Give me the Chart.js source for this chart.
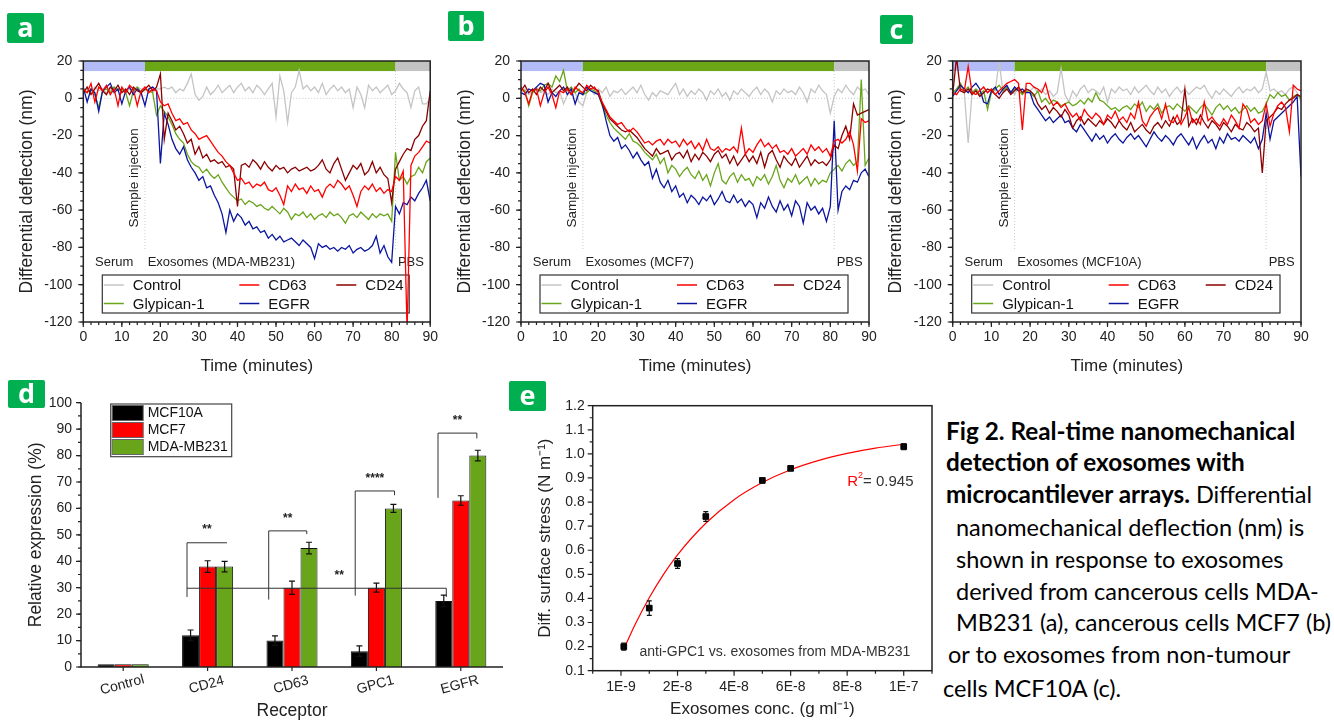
<!DOCTYPE html>
<html>
<head>
<meta charset="utf-8">
<title>Fig 2</title>
<script src="https://cdn.jsdelivr.net/npm/chart.js@4.4.1/dist/chart.umd.min.js"></script>
<style>
  body { margin: 0; background: #fff; }
  #page { position: relative; width: 1334px; height: 722px; overflow: hidden; background: #fff; }
  canvas { position: absolute; }
  .tag { position: absolute; background: #00b050; color: #fff; font: bold 27px "Open Sans", sans-serif;
         text-align: center; border-radius: 2px; }
  .cap { position: absolute; font: 23.5px Lato, "Open Sans", sans-serif; color: #000; white-space: nowrap; line-height: 28px; }
  .cap b { font-size: 24.3px; }
</style>
</head>
<body>
<div id="page">
  <canvas id="chartA" width="445" height="380" style="left:0;top:0"></canvas>
  <canvas id="chartB" width="445" height="380" style="left:445px;top:0"></canvas>
  <canvas id="chartC" width="454" height="380" style="left:880px;top:0"></canvas>
  <canvas id="chartD" width="505" height="342" style="left:0;top:380px"></canvas>
  <canvas id="chartE" width="440" height="342" style="left:500px;top:380px"></canvas>

  <div class="tag" style="left:7px;top:13px;width:37px;height:30px;line-height:28px">a</div>
  <div class="tag" style="left:448px;top:11px;width:36px;height:30px;line-height:28px">b</div>
  <div class="tag" style="left:880px;top:15px;width:33px;height:29px;line-height:27px">c</div>
  <div class="tag" style="left:8px;top:380px;width:37px;height:28px;line-height:26px">d</div>
  <div class="tag" style="left:509px;top:381px;width:37px;height:30px;line-height:27px">e</div>

  <div class="cap" style="left:946px;top:417px"><b>Fig 2. Real-time nanomechanical</b></div>
  <div class="cap" style="left:946px;top:448px"><b>detection of exosomes with</b></div>
  <div class="cap" style="left:946px;top:480px"><b>microcantilever arrays.</b> Differential</div>
  <div class="cap" style="left:956px;top:513px">nanomechanical deflection (nm) is</div>
  <div class="cap" style="left:956px;top:545px">shown in response to exosomes</div>
  <div class="cap" style="left:956px;top:577px">derived from cancerous cells MDA-</div>
  <div class="cap" style="left:956px;top:608px">MB231 (a), cancerous cells MCF7 (b)</div>
  <div class="cap" style="left:948px;top:640px">or to exosomes from non-tumour</div>
  <div class="cap" style="left:943px;top:674px">cells MCF10A (c).</div>
</div>

<script>
Chart.defaults.font.family = '"Liberation Sans", Arial, sans-serif';
Chart.defaults.color = '#222';
Chart.defaults.animation = false;

// ---- a/b/c: differential deflection (nm), one reading per minute ----
const minutes = [...Array(91).keys()];

// a: exosomes from MDA-MB231
const aControl = [4,5,3,6,4,5,3,4,6,5,4,3,5,4,6,5,4,5,3,5,
  5,6,5,6,3,5,4,8,13,2,-1,1,6,2,4,7,3,5,7,3,
  6,8,4,6,3,7,5,2,5,8,-10,12,4,-13,3,6,15,5,7,4,
  6,3,8,2,5,7,4,6,3,5,-5,6,2,-5,7,4,6,3,5,7,
  2,4,8,5,3,-5,4,6,-3,-3,0];
const aCD63 = [5,3,8,-2,6,4,7,2,5,-4,6,3,7,5,-4,4,6,3,5,4,
  -2,-4,-3,-8,-12,-11,-14,-13,-17,-19,-22,-21,-20,-23,-26,-29,-31,-34,-36,-40,
  -44,-43,-46,-45,-48,-46,-47,-45,-49,-50,-48,-52,-57,-47,-50,-46,-49,-48,-51,-47,
  -50,-49,-53,-48,-46,-48,-44,-46,-49,-47,-52,-58,-50,-47,-49,-46,-50,-48,-51,-49,
  -50,-42,-44,-39,-125,-36,-31,-29,-26,-23,-24];
const aCD24 = [3,6,2,5,8,4,2,6,4,7,3,5,2,6,4,3,5,7,4,6,
  13,-22,-8,-12,-17,-15,-19,-24,-22,-30,-26,-32,-30,-34,-33,-35,-34,-37,-36,-38,
  -58,-36,-35,-37,-33,-35,-38,-34,-37,-39,-36,-38,-37,-40,-38,-37,-39,-38,-37,-39,
  -38,-36,-33,-38,-40,-35,-32,-38,-44,-40,-36,-38,-35,-41,-39,-34,-40,-37,-41,-43,
  -56,-38,-34,-30,-27,-28,-22,-20,-15,-12,4];
const aGPC1 = [4,3,5,2,-5,4,5,3,6,4,5,3,-4,4,6,3,5,4,3,-9,
  -4,-7,-10,-14,-19,-22,-24,-30,-34,-36,-37,-40,-38,-41,-43,-41,-45,-48,-51,-53,
  -55,-54,-57,-55,-56,-58,-57,-59,-60,-58,-60,-62,-59,-61,-65,-62,-63,-61,-64,-62,
  -65,-63,-62,-64,-61,-63,-62,-64,-67,-63,-62,-64,-61,-63,-65,-62,-64,-62,-63,-62,
  -66,-29,-44,-42,-46,-42,-41,-37,-40,-34,-32];
const aEGFR = [6,-2,5,3,-7,4,6,8,3,5,-3,4,6,2,5,3,-4,5,6,4,
  -35,-8,-14,-22,-27,-30,-26,-33,-37,-40,-44,-42,-48,-47,-52,-56,-62,-72,-60,-66,
  -62,-64,-68,-66,-70,-69,-72,-71,-75,-73,-76,-74,-77,-76,-75,-77,-79,-76,-78,-80,
  -86,-78,-80,-79,-81,-80,-82,-80,-81,-79,-83,-81,-80,-82,-81,-79,-74,-83,-79,-85,
  -88,-58,-62,-56,-57,-53,-55,-51,-48,-44,-55];

// b: exosomes from MCF7
const bControl = [3,5,2,4,6,3,4,2,5,3,4,-3,2,5,3,-2,-4,3,5,2,
  5,3,6,1,4,3,5,2,4,6,3,7,2,-1,3,1,4,3,2,5,
  8,2,5,1,4,2,5,3,-1,4,2,5,1,3,-1,4,2,5,3,1,
  4,6,2,5,3,-2,4,2,5,3,4,2,6,3,-2,5,3,7,4,2,
  -8,1,5,3,7,4,2,6,4,5,2];
const bCD63 = [6,3,-3,4,5,-4,3,6,2,-5,4,3,5,2,6,4,3,7,5,6,
  3,-2,-6,-10,-12,-14,-13,-16,-18,-16,-18,-21,-24,-23,-25,-23,-22,-25,-22,-24,
  -23,-26,-22,-25,-23,-27,-24,-28,-22,-27,-28,-26,-29,-27,-28,-26,-29,-16,-30,-27,
  -29,-25,-22,-26,-24,-27,-25,-29,-28,-30,-27,-31,-29,-27,-30,-25,-28,-26,-29,-27,
  -31,-23,-22,-24,-22,-18,-25,-39,-11,-13,-12];
const bCD24 = [4,7,3,5,2,6,4,8,3,5,7,4,6,2,5,8,6,4,7,5,
  4,-3,-7,-11,-13,-15,-17,-18,-17,-19,-21,-24,-27,-29,-31,-27,-30,-29,-28,-33,
  -30,-29,-32,-28,-34,-30,-33,-29,-31,-34,-30,-28,-32,-30,-35,-31,-36,-33,-30,-34,
  -31,-35,-29,-37,-30,-28,-33,-37,-31,-34,-36,-32,-37,-34,-31,-36,-33,-35,-34,-36,
  -33,-25,-27,-20,-15,-22,-3,-9,-8,-7,-6];
const bGPC1 = [5,4,-4,3,5,4,7,8,6,12,9,15,4,6,3,5,2,3,5,4,
  2,-4,-9,-13,-16,-18,-20,-22,-19,-23,-24,-26,-29,-31,-33,-30,-35,-32,-40,-36,
  -38,-42,-39,-37,-41,-43,-39,-44,-41,-47,-40,-35,-44,-46,-42,-40,-45,-41,-44,-43,
  -47,-42,-44,-41,-46,-42,-36,-44,-48,-43,-45,-41,-46,-44,-42,-47,-43,-46,-44,-45,
  -40,-38,-36,-39,-35,-33,-36,-34,10,-36,-32];
const bEGFR = [3,2,5,4,6,8,7,-2,3,1,4,6,2,5,-3,3,2,6,4,3,
  2,-3,-12,-20,-23,-21,-27,-25,-28,-32,-29,-33,-36,-34,-43,-38,-45,-48,-44,-50,
  -47,-53,-51,-56,-52,-54,-57,-53,-55,-52,-57,-54,-50,-55,-56,-52,-56,-54,-58,-55,
  -57,-64,-56,-59,-53,-58,-61,-55,-60,-57,-63,-55,-58,-67,-56,-60,-58,-62,-59,-66,
  -58,-12,-60,-50,-47,-49,-44,-45,-40,-38,-42];

// c: exosomes from MCF10A
const cControl = [2,4,6,3,-24,3,5,4,6,3,5,4,20,3,5,4,2,6,3,5,
  4,6,3,5,2,4,1,3,16,2,-2,4,1,5,7,3,5,4,2,6,
  -2,5,3,6,4,5,2,6,3,5,7,4,2,6,3,5,1,4,6,3,
  5,2,4,6,5,7,3,0,4,2,5,3,1,4,6,3,5,4,6,3,
  5,14,4,5,3,4,2,5,6,3,-2];
const cCD63 = [3,2,5,4,17,3,2,4,6,3,5,2,4,6,8,9,10,8,-17,8,
  8,6,5,3,8,0,-4,-2,-5,-3,-7,-10,-8,-12,-6,-9,-11,-8,-10,-14,
  -9,-11,-7,-12,-10,-13,-8,-11,-2,-12,-15,-10,-7,-5,-11,-3,-12,-13,-9,-14,
  -10,-5,-13,-11,-14,-2,-12,-10,-13,-15,-11,-14,-9,-12,-16,-3,-6,-13,-11,-14,
  -12,-3,-15,-8,-4,-2,-5,-18,7,5,4];
const cCD24 = [2,22,4,3,5,2,4,1,3,5,4,2,0,3,5,2,4,6,3,5,
  4,2,-3,-6,-4,-8,-5,-7,-10,-6,-9,-16,-12,-10,-14,-11,-13,-15,-12,-14,
  -11,-13,-16,-12,-15,-17,-13,-18,-16,-14,-17,-19,-15,-13,-16,-12,-15,-10,-14,-12,
  5,-15,-11,-14,-9,-13,-16,-12,-14,-17,-13,-15,-18,-14,-16,-17,-13,-15,-18,-16,
  -40,-12,-10,-8,-5,-6,-3,-1,0,2,1];
const cGPC1 = [3,5,8,4,6,3,5,2,4,-6,3,5,7,4,6,3,5,4,2,4,
  3,1,4,-2,0,-3,-1,-2,-4,-3,-2,-4,-3,-1,-3,0,-2,3,-1,-2,
  -4,-6,-5,-7,-5,-4,-6,-3,-5,-2,-7,-4,-6,-3,-8,-5,-4,-6,-3,-5,
  -7,-4,-6,-8,-5,-3,-6,-9,-5,-3,-6,-4,-7,-5,-8,-6,-4,-7,-5,-8,
  -7,-3,2,0,3,1,2,-1,1,2,0];
const cEGFR = [1,4,7,5,3,6,8,5,-2,-3,4,6,2,5,7,3,6,4,5,3,
  3,-3,-6,-9,-12,-10,-13,-11,-9,-13,-12,-16,-18,-14,-17,-20,-23,-19,-22,-20,
  -24,-21,-19,-22,-24,-21,-19,-22,-20,-23,-26,-22,-18,-21,-23,-20,-22,-25,-21,-19,
  -22,-25,-21,-27,-23,-20,-24,-22,-27,-21,-24,-19,-22,-21,-23,-20,-22,-24,-21,-27,
  -22,-8,-22,-12,-10,-8,-6,-4,-2,1,-42];

const traceNames = ['Control', 'CD63', 'CD24', 'Glypican-1', 'EGFR'];
const traceColors = ['#c4c4c4', '#ff0000', '#8b0000', '#69a51b', '#0b159e'];
const traceOrder = [4, 0, 1, 3, 2];          // lower = drawn on top
const phaseEdges = [0, 16, 81, 90];           // serum | exosomes | PBS (minutes)
const phaseColors = ['#b3bcf6', '#6aa616', '#c3c3c3'];

// ---- d: relative expression (%) ----
const receptors = ['Control', 'CD24', 'CD63', 'GPC1', 'EGFR'];
const mcf10a = [1, 12, 10, 6, 25];
const mcf10aErr = [0, 2, 1.8, 2, 2.2];
const mcf7 = [1, 38, 30, 30, 63];
const mcf7Err = [0, 2.2, 2.5, 1.7, 1.8];
const mda = [1, 38, 45, 60, 80];
const mdaErr = [0, 2, 2.2, 1.5, 2];
// significance brackets: category positions, heights (%)
const brackets = [
  { x0: 0.756, x1: 1.23, top: 47, drop0: 26.5, drop1: 47, stars: '**' },
  { x0: 1.724, x1: 2.175, top: 51.5, drop0: 25.5, drop1: 50.3, stars: '**' },
  { x0: 2.749, x1: 3.215, top: 66.6, drop0: 27, drop1: 65, stars: '****' },
  { x0: 3.73, x1: 4.19, top: 88.5, drop0: 64, drop1: 86.5, stars: '**' },
  { x0: 0.756, x1: 3.828, top: 29.8, drop0: 29.8, drop1: 26.5, stars: '**', starsAt: 2.56 }
];

// ---- e: surface stress vs exosome concentration ----
const conc = [1e-9, 1e-8, 2e-8, 3e-8, 5e-8, 6e-8, 1e-7];
const stress = [0.2, 0.36, 0.545, 0.74, 0.89, 0.94, 1.03];
const stressErr = [0.015, 0.03, 0.02, 0.02, 0.012, 0.01, 0.012];
const fitConc = [1e-9, 5e-9, 1e-8, 1.5e-8, 2e-8, 3e-8, 4e-8, 5e-8, 6e-8, 7e-8, 8e-8, 9e-8, 1e-7];
const fitStress = [0.19, 0.292, 0.403, 0.499, 0.581, 0.712, 0.81, 0.881, 0.934, 0.973, 1.002, 1.024, 1.04];
const concTicks = [0, 2e-8, 4e-8, 6e-8, 8e-8, 1e-7];
const concTickLabels = ['1E-9', '2E-8', '4E-8', '6E-8', '8E-8', '1E-7'];
const stressTicks = [0.1, 0.2, 0.3, 0.4, 0.5, 0.6, 0.7, 0.8, 0.9, 1.0, 1.1, 1.2];

const FONT = '"Liberation Sans", Arial, sans-serif';

function steps(min, max, step) {
  const out = [];
  for (let v = min; v <= max + step / 1000; v += step) out.push(+v.toPrecision(10));
  return out;
}

// outward tick marks on the left / bottom axis
function tickMarks(ctx, scale, values, len) {
  const ca = scale.chart.chartArea;
  ctx.beginPath();
  values.forEach(v => {
    const p = scale.getPixelForValue(v);
    if (scale.isHorizontal()) { ctx.moveTo(p, ca.bottom); ctx.lineTo(p, ca.bottom + len); }
    else { ctx.moveTo(ca.left, p); ctx.lineTo(ca.left - len, p); }
  });
  ctx.stroke();
}

const timePanel = {
  id: 'timePanel',
  beforeDatasetsDraw(chart, args, opts) {
    const { ctx, chartArea: ca, scales: { x, y } } = chart;
    ctx.save();
    const bTop = y.getPixelForValue(20), bBot = y.getPixelForValue(14.6);
    for (let i = 0; i < phaseColors.length; i++) {
      const x0 = x.getPixelForValue(phaseEdges[i]), x1 = x.getPixelForValue(phaseEdges[i + 1]);
      ctx.fillStyle = phaseColors[i];
      ctx.fillRect(x0, bTop, x1 - x0, bBot - bTop);
    }
    // dotted guides
    ctx.strokeStyle = '#c8c8c8';
    ctx.lineWidth = 1;
    ctx.setLineDash([1, 2]);
    ctx.beginPath();
    const y0 = y.getPixelForValue(0);
    ctx.moveTo(ca.left, y0); ctx.lineTo(ca.right, y0);
    [16, 81].forEach(t => {
      const p = x.getPixelForValue(t);
      ctx.moveTo(p, bBot); ctx.lineTo(p, y.getPixelForValue(-82));
    });
    ctx.stroke();
    ctx.setLineDash([]);

    // phase labels
    ctx.fillStyle = '#222';
    ctx.font = '13px ' + FONT;
    ctx.textBaseline = 'middle';
    const ly = y.getPixelForValue(-88.3);
    ctx.textAlign = 'center';
    ctx.fillText('Serum', x.getPixelForValue(8), ly);
    ctx.fillText('PBS', x.getPixelForValue(85), ly);
    ctx.textAlign = 'left';
    ctx.fillText(opts.sample, x.getPixelForValue(16.7), ly);
    ctx.save();
    ctx.translate(x.getPixelForValue(13.3), y.getPixelForValue(-42.7));
    ctx.rotate(-Math.PI / 2);
    ctx.textAlign = 'center';
    ctx.font = '13.5px ' + FONT;
    ctx.fillText('Sample injection', 0, 0);
    ctx.restore();

    // legend
    const bx0 = ca.left + 19, bx1 = ca.right - 21, by0 = ca.bottom - 47, by1 = ca.bottom - 9;
    ctx.fillStyle = '#fff';
    ctx.fillRect(bx0, by0, bx1 - bx0, by1 - by0);
    ctx.strokeStyle = '#333';
    ctx.lineWidth = 1.2;
    ctx.strokeRect(bx0, by0, bx1 - bx0, by1 - by0);
    ctx.font = '15px ' + FONT;
    ctx.textAlign = 'left';
    traceNames.forEach((name, k) => {
      const ds = chart.data.datasets.find(d => d.label === name);
      const sx = bx0 + [1.5, 137, 234][k % 3];
      const sy = by0 + [10, 28.5][Math.floor(k / 3)];
      ctx.strokeStyle = ds.borderColor;
      ctx.lineWidth = 1.5;
      ctx.beginPath(); ctx.moveTo(sx, sy); ctx.lineTo(sx + 20, sy); ctx.stroke();
      ctx.fillStyle = '#111';
      ctx.fillText(name, sx + 29, sy + 1);
    });
    ctx.restore();
  },
  afterDatasetsDraw(chart) {
    const { ctx, chartArea: ca, scales: { x, y } } = chart;
    ctx.save();
    ctx.strokeStyle = '#222';
    ctx.lineWidth = 1.5;
    ctx.strokeRect(ca.left, ca.top, ca.right - ca.left, ca.bottom - ca.top);
    ctx.lineWidth = 1.2;
    tickMarks(ctx, y, steps(-120, 20, 20), 5);
    tickMarks(ctx, y, steps(-120, 20, 5), 3);
    tickMarks(ctx, x, steps(0, 90, 10), 5);
    tickMarks(ctx, x, steps(0, 90, 2), 3);
    ctx.restore();
  }
};

function timeChart(id, series, sample, yWidth, padRight, yTitlePad) {
  return new Chart(document.getElementById(id), {
    type: 'line',
    data: {
      datasets: series.map((arr, k) => ({
        label: traceNames[k],
        data: minutes.map((t, i) => ({ x: t, y: arr[i] })),
        borderColor: traceColors[k],
        borderWidth: 1.3,
        pointRadius: 0,
        tension: 0,
        order: traceOrder[k]
      }))
    },
    options: {
      responsive: false,
      animation: false,
      layout: { padding: { top: 61, right: padRight, bottom: 0, left: 0 } },
      plugins: { legend: { display: false }, tooltip: { enabled: false }, timePanel: { sample } },
      scales: {
        x: {
          type: 'linear', min: 0, max: 90,
          ticks: { stepSize: 10, font: { size: 14 }, padding: 7, color: '#222', maxRotation: 0 },
          grid: { display: false, drawTicks: false }, border: { display: false },
          title: { display: true, text: 'Time (minutes)', font: { size: 17 }, color: '#222', padding: { top: 0, bottom: 3 } },
          afterFit: s => { s.height = 58; }
        },
        y: {
          min: -120, max: 20,
          ticks: { stepSize: 20, font: { size: 14 }, padding: 11, color: '#222' },
          grid: { display: false, drawTicks: false }, border: { display: false },
          title: { display: true, text: 'Differential deflection (nm)', font: { size: 17.5 }, color: '#222', padding: { top: yTitlePad, bottom: 0 } },
          afterFit: s => { s.width = yWidth; }
        }
      }
    },
    plugins: [timePanel]
  });
}

timeChart('chartA', [aControl, aCD63, aCD24, aGPC1, aEGFR], 'Exosomes (MDA-MB231)', 83.3, 14, 16.5);
timeChart('chartB', [bControl, bCD63, bCD24, bGPC1, bEGFR], 'Exosomes (MCF7)', 76, 21, 9.5);
timeChart('chartC', [cControl, cCD63, cCD24, cGPC1, cEGFR], 'Exosomes (MCF10A)', 72.7, 33, 5.5);

// ---- d ----
const barPanel = {
  id: 'barPanel',
  afterDatasetsDraw(chart) {
    const { ctx, chartArea: ca, scales: { x, y } } = chart;
    ctx.save();
    // error bars
    ctx.strokeStyle = '#111';
    ctx.lineWidth = 1.2;
    chart.data.datasets.forEach((ds, di) => {
      chart.getDatasetMeta(di).data.forEach((bar, i) => {
        const e = ds.errors[i];
        if (!e) return;
        const t = y.getPixelForValue(ds.data[i] + e), b = y.getPixelForValue(ds.data[i] - e);
        ctx.beginPath();
        ctx.moveTo(bar.x, t); ctx.lineTo(bar.x, b);
        ctx.moveTo(bar.x - 3, t); ctx.lineTo(bar.x + 3, t);
        ctx.moveTo(bar.x - 3, b); ctx.lineTo(bar.x + 3, b);
        ctx.stroke();
      });
    });
    // significance brackets
    const cw = x.getPixelForValue(1) - x.getPixelForValue(0);
    const cx = v => x.getPixelForValue(0) + v * cw;
    ctx.strokeStyle = '#333';
    ctx.lineWidth = 1;
    ctx.font = 'bold 12px ' + FONT;
    ctx.fillStyle = '#222';
    ctx.textAlign = 'center';
    ctx.textBaseline = 'middle';
    brackets.forEach(br => {
      ctx.beginPath();
      ctx.moveTo(cx(br.x0), y.getPixelForValue(br.drop0));
      ctx.lineTo(cx(br.x0), y.getPixelForValue(br.top));
      ctx.lineTo(cx(br.x1), y.getPixelForValue(br.top));
      ctx.lineTo(cx(br.x1), y.getPixelForValue(br.drop1));
      ctx.stroke();
      const sx = br.starsAt !== undefined ? cx(br.starsAt) : (cx(br.x0) + cx(br.x1)) / 2;
      ctx.fillText(br.stars, sx, y.getPixelForValue(br.top + 4.8));
    });
    // axes
    ctx.strokeStyle = '#222';
    ctx.lineWidth = 1.5;
    ctx.beginPath();
    ctx.moveTo(ca.left, ca.top); ctx.lineTo(ca.left, ca.bottom); ctx.lineTo(ca.right, ca.bottom);
    ctx.stroke();
    ctx.lineWidth = 1.2;
    tickMarks(ctx, y, steps(0, 100, 10), 5);
    tickMarks(ctx, y, steps(0, 100, 5), 3);
    tickMarks(ctx, x, receptors.map((r, i) => i), 4);
    // slanted category labels
    ctx.font = '14px ' + FONT;
    ctx.fillStyle = '#222';
    x.getLabels().forEach((lab, i) => {
      ctx.save();
      ctx.translate(x.getPixelForValue(i) - 1, ca.bottom + 18);
      ctx.rotate(-15 * Math.PI / 180);
      ctx.fillText(lab, 0, 0);
      ctx.restore();
    });
    // legend
    const lx = 110.7, ly = 24, lw = 121, lh = 52.7;
    ctx.fillStyle = '#fff';
    ctx.fillRect(lx, ly, lw, lh);
    ctx.strokeStyle = '#444';
    ctx.lineWidth = 1.2;
    ctx.strokeRect(lx, ly, lw, lh);
    ctx.font = '14px ' + FONT;
    ctx.textAlign = 'left';
    chart.data.datasets.forEach((ds, i) => {
      const ry = ly + 1.5 + i * 17;
      ctx.fillStyle = ds.backgroundColor;
      ctx.fillRect(lx + 1.5, ry, 31, 15);
      ctx.strokeStyle = '#666';
      ctx.lineWidth = 1;
      ctx.strokeRect(lx + 1.5, ry, 31, 15);
      ctx.fillStyle = '#111';
      ctx.fillText(ds.label, lx + 37, ry + 8);
    });
    ctx.restore();
  }
};

new Chart(document.getElementById('chartD'), {
  type: 'bar',
  data: {
    labels: receptors,
    datasets: [
      { label: 'MCF10A', data: mcf10a, errors: mcf10aErr, backgroundColor: '#000000', borderColor: '#111', borderWidth: 1 },
      { label: 'MCF7', data: mcf7, errors: mcf7Err, backgroundColor: '#ff0000', borderColor: '#111', borderWidth: 1 },
      { label: 'MDA-MB231', data: mda, errors: mdaErr, backgroundColor: '#68a51a', borderColor: '#111', borderWidth: 1 }
    ]
  },
  options: {
    responsive: false,
    animation: false,
    layout: { padding: { top: 22.7, right: 2, bottom: 0, left: 0 } },
    datasets: { bar: { categoryPercentage: 0.605, barPercentage: 1 } },
    plugins: { legend: { display: false }, tooltip: { enabled: false } },
    scales: {
      x: {
        ticks: { display: false },
        grid: { display: false, drawTicks: false }, border: { display: false },
        title: { display: true, text: 'Receptor', font: { size: 17.5 }, color: '#222', padding: { top: 0, bottom: 0 } },
        afterFit: s => { s.height = 55; }
      },
      y: {
        min: 0, max: 100,
        ticks: { stepSize: 10, font: { size: 14 }, padding: 9, color: '#222' },
        grid: { display: false, drawTicks: false }, border: { display: false },
        title: { display: true, text: 'Relative expression (%)', font: { size: 17.5 }, color: '#222', padding: { top: 26, bottom: 0 } },
        afterFit: s => { s.width = 81; }
      }
    }
  },
  plugins: [barPanel]
});

// ---- e ----
const stressPanel = {
  id: 'stressPanel',
  afterDatasetsDraw(chart) {
    const { ctx, chartArea: ca, scales: { x, y } } = chart;
    ctx.save();
    ctx.strokeStyle = '#111';
    ctx.lineWidth = 1.2;
    const pts = chart.getDatasetMeta(1).data;
    stressErr.forEach((e, i) => {
      const px = pts[i].x;
      const t = y.getPixelForValue(stress[i] + e), b = y.getPixelForValue(stress[i] - e);
      ctx.beginPath();
      ctx.moveTo(px, t); ctx.lineTo(px, b);
      ctx.moveTo(px - 2.5, t); ctx.lineTo(px + 2.5, t);
      ctx.moveTo(px - 2.5, b); ctx.lineTo(px + 2.5, b);
      ctx.stroke();
    });
    // frame + ticks
    ctx.strokeStyle = '#222';
    ctx.lineWidth = 1.5;
    ctx.strokeRect(ca.left, ca.top, ca.right - ca.left, ca.bottom - ca.top);
    ctx.lineWidth = 1.2;
    tickMarks(ctx, y, stressTicks, 5);
    tickMarks(ctx, y, steps(0.15, 1.15, 0.1), 3);
    tickMarks(ctx, x, concTicks, 5);
    tickMarks(ctx, x, steps(-1e-8, 1.1e-7, 2e-8), 3);
    // annotations
    ctx.textBaseline = 'middle';
    ctx.textAlign = 'left';
    ctx.font = '15px ' + FONT;
    const rx = x.getPixelForValue(8.0e-8), ry = y.getPixelForValue(0.885);
    ctx.fillStyle = '#ff0000';
    ctx.fillText('R', rx, ry);
    const rw = ctx.measureText('R').width;
    ctx.font = '9px ' + FONT;
    ctx.fillText('2', rx + rw, ry - 6);
    ctx.font = '15px ' + FONT;
    ctx.fillStyle = '#333';
    ctx.fillText('= 0.945', rx + rw + 5, ry);
    ctx.font = '14px ' + FONT;
    ctx.fillText('anti-GPC1 vs. exosomes from MDA-MB231', x.getPixelForValue(0.657e-8), y.getPixelForValue(0.179));
    ctx.restore();
  }
};

new Chart(document.getElementById('chartE'), {
  type: 'scatter',
  data: {
    datasets: [
      {
        type: 'line', label: 'fit',
        data: fitConc.map((c, i) => ({ x: c, y: fitStress[i] })),
        borderColor: '#ff0000', borderWidth: 1.2, pointRadius: 0,
        cubicInterpolationMode: 'monotone', order: 1
      },
      {
        label: 'anti-GPC1',
        data: conc.map((c, i) => ({ x: c, y: stress[i] })),
        backgroundColor: '#000', borderColor: '#000',
        pointStyle: 'rect', pointRadius: 4, order: 0
      }
    ]
  },
  options: {
    responsive: false,
    animation: false,
    layout: { padding: { top: 25.7, right: 8, bottom: 0, left: 0 } },
    plugins: { legend: { display: false }, tooltip: { enabled: false } },
    scales: {
      x: {
        type: 'linear', min: -1e-8, max: 1.1e-7,
        afterBuildTicks: s => { s.ticks = concTicks.map(v => ({ value: v })); },
        ticks: { callback: (v, i) => concTickLabels[i], font: { size: 14 }, padding: 8, color: '#222', maxRotation: 0 },
        grid: { display: false, drawTicks: false }, border: { display: false },
        title: { display: true, text: 'Exosomes conc. (g ml\u207B\u00B9)', font: { size: 17 }, color: '#222', padding: { top: 0, bottom: 2.5 } },
        afterFit: s => { s.height = 51.3; }
      },
      y: {
        min: 0.1, max: 1.2,
        afterBuildTicks: s => { s.ticks = stressTicks.map(v => ({ value: v })); },
        ticks: { callback: v => v.toFixed(1), font: { size: 14 }, padding: 8, color: '#222' },
        grid: { display: false, drawTicks: false }, border: { display: false },
        title: { display: true, text: 'Diff. surface stress (N m\u207B\u00B9)', font: { size: 17 }, color: '#222', padding: { top: 35, bottom: 0 } },
        afterFit: s => { s.width = 92.7; }
      }
    }
  },
  plugins: [stressPanel]
});
</script>
</body>
</html>
